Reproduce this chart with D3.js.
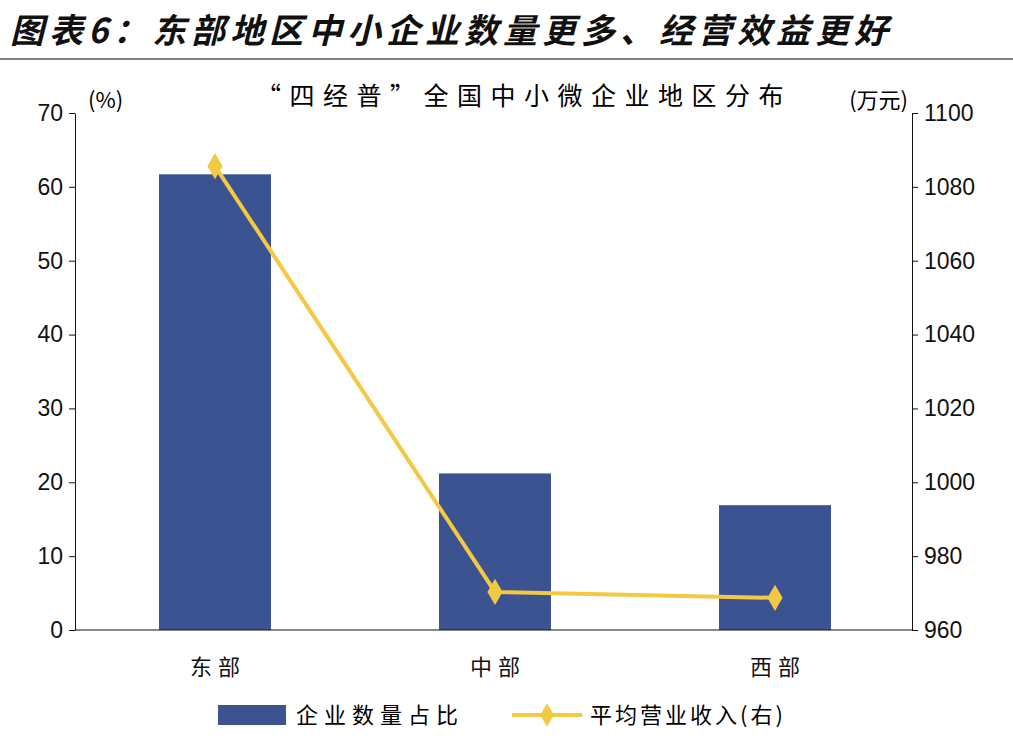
<!DOCTYPE html>
<html><head><meta charset="utf-8">
<script src="https://cdn.jsdelivr.net/npm/d3@7"></script>
<style>body{margin:0;background:#fff}</style>
</head><body>
<svg id="chart" width="1013" height="741"></svg>
<script>
var categories = ['东部', '中部', '西部'];
var shareValues = [61.7, 21.2, 16.9];
var revenueValues = [1085.6, 970.3, 968.7];
var leftTicks = [0, 10, 20, 30, 40, 50, 60, 70];
var rightTicks = [960, 980, 1000, 1020, 1040, 1060, 1080, 1100];

var svg = d3.select('#chart');
var font = '"Noto Sans CJK SC", sans-serif';
var barColor = '#3b5391', lineColor = '#f3c843';

svg.append('text').attr('x', 10).attr('y', 43)
    .attr('font-family', font).attr('font-size', 34).attr('font-weight', 'bold')
    .attr('font-style', 'italic').attr('fill', '#111').attr('letter-spacing', 5)
    .text('图表6：东部地区中小企业数量更多、经营效益更好');
svg.append('line').attr('x1', 0).attr('x2', 1013).attr('y1', 59).attr('y2', 59)
    .attr('stroke', '#555').attr('stroke-width', 1.5);

var x = d3.scaleBand().domain(categories).range([75, 915]).paddingInner(0.6).paddingOuter(0.3);
var yL = d3.scaleLinear().domain([0, 70]).range([630, 113]);
var yR = d3.scaleLinear().domain([960, 1100]).range([630, 113]);

var axL = svg.append('g').attr('transform', 'translate(75,0)')
    .call(d3.axisLeft(yL).tickValues(leftTicks).tickSize(6).tickSizeOuter(0));
var axR = svg.append('g').attr('transform', 'translate(912,0)')
    .call(d3.axisRight(yR).tickValues(rightTicks).tickFormat(d3.format('d')).tickSize(6).tickSizeOuter(0));
[axL, axR].forEach(function (a) {
    a.selectAll('text').attr('font-family', 'Liberation Sans, Arial').attr('font-size', 23).attr('fill', '#111');
    a.selectAll('line,path').attr('stroke', '#111');
});
axL.selectAll('text').attr('x', -12);
axR.selectAll('text').attr('x', 12);

svg.append('g').selectAll('rect').data(categories).join('rect')
    .attr('x', d => x(d)).attr('width', x.bandwidth())
    .attr('y', (d, i) => yL(shareValues[i]))
    .attr('height', (d, i) => yL(0) - yL(shareValues[i]))
    .attr('fill', barColor);

svg.append('line').attr('x1', 75).attr('x2', 912).attr('y1', 630).attr('y2', 630).attr('stroke', '#111');

svg.append('g').selectAll('text').data(categories).join('text')
    .attr('x', d => x(d) + x.bandwidth() / 2 + 3).attr('y', 675).attr('text-anchor', 'middle')
    .attr('font-family', font).attr('font-size', 22).attr('letter-spacing', 6).attr('fill', '#111').text(d => d);

var pts = categories.map((c, i) => [x(c) + x.bandwidth() / 2, yR(revenueValues[i])]);
svg.append('path').attr('d', d3.line()(pts)).attr('fill', 'none')
    .attr('stroke', lineColor).attr('stroke-width', 4);
svg.append('g').selectAll('path').data(pts).join('path')
    .attr('d', d3.symbol(d3.symbolDiamond, 200)())
    .attr('transform', d => 'translate(' + d[0] + ',' + d[1] + ')')
    .attr('fill', lineColor);

svg.append('text').attr('x', 88).attr('y', 108).attr('font-family', font).attr('font-size', 22).text('(%)');
svg.append('text').attr('x', 908).attr('y', 108).attr('text-anchor', 'end').attr('font-family', font).attr('font-size', 22).text('(万元)');
svg.append('text').attr('x', 256).attr('y', 105).attr('font-family', font)
    .attr('font-size', 25).attr('letter-spacing', 8.5).text('“四经普”全国中小微企业地区分布');

var lg = svg.append('g');
lg.append('rect').attr('x', 218).attr('y', 705).attr('width', 68).attr('height', 20).attr('fill', barColor);
lg.append('text').attr('x', 296).attr('y', 723).attr('font-family', font).attr('font-size', 22).attr('letter-spacing', 6).text('企业数量占比');
lg.append('line').attr('x1', 512).attr('x2', 582).attr('y1', 715).attr('y2', 715).attr('stroke', lineColor).attr('stroke-width', 4);
lg.append('path').attr('d', d3.symbol(d3.symbolDiamond, 160)()).attr('transform', 'translate(547,715)').attr('fill', lineColor);
lg.append('text').attr('x', 590).attr('y', 723).attr('font-family', font).attr('font-size', 22).attr('letter-spacing', 3).text('平均营业收入(右)');
</script>
</body></html>
